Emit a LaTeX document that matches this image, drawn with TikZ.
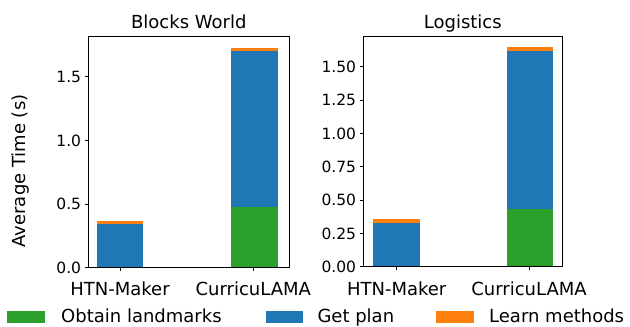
\documentclass[tikz,border=0pt]{standalone}
\usepackage{fontspec}
\setmainfont{DejaVu Sans}
\definecolor{mgreen}{HTML}{2CA02C}
\definecolor{mblue}{HTML}{1F77B4}
\definecolor{morange}{HTML}{FF7F0E}
\begin{document}
\begin{tikzpicture}[x=1pt,y=-1pt,
  big/.style={inner sep=0pt,text=black,font=\fontsize{18}{20}\selectfont},
  ytl/.style={inner sep=0pt,anchor=east,text=black,font=\fontsize{15.5}{17}\selectfont},
  frame/.style={draw=black,line width=0.9pt},
  tickln/.style={draw=black,line width=0.9pt}]
\useasboundingbox (0,0) rectangle (630,327);
\fill[white] (0,0) rectangle (630,327);

% ---------- Left: Blocks World ----------
\fill[mblue]   (96.7,267.7) rectangle (143.3,224.3);
\fill[morange] (96.7,224.3) rectangle (143.3,221.0);
\fill[mgreen]  (230.7,267.7) rectangle (277.7,207.3);
\fill[mblue]   (230.7,207.3) rectangle (277.7,51.0);
\fill[morange] (230.7,51.0) rectangle (277.7,47.7);
\draw[frame] (88.3,36.7) rectangle (289.3,267.7);
\foreach \yy/\lab [count=\i] in {267.7/0.0,204.05/0.5,140.4/1.0,76.75/1.5}{
  \draw[tickln] (88.3,\yy) -- (84.8,\yy);
  \node[ytl] (lyt\i) at (81.3,\yy) {\lab};
}
\draw[tickln] (120,267.7) -- (120,271.2);
\draw[tickln] (253.3,267.7) -- (253.3,271.2);
\node[big,anchor=base] (lx1) at (120,295) {HTN-Maker};
\node[big,anchor=base] (lx2) at (253.3,295) {CurricuLAMA};
\node[big,anchor=base] (ltitle) at (188.8,28) {Blocks World};
\node[big,anchor=base,rotate=90] (ylab) at (25,171) {Average Time (s)};

% ---------- Right: Logistics ----------
\fill[mblue]   (372.6,266.7) rectangle (419.6,222.7);
\fill[morange] (372.6,222.7) rectangle (419.6,219.3);
\fill[mgreen]  (506.7,266.7) rectangle (553.3,209.3);
\fill[mblue]   (506.7,209.3) rectangle (553.3,51.0);
\fill[morange] (506.7,51.0) rectangle (553.3,47.0);
\draw[frame] (363.3,36) rectangle (562.3,266.7);
\foreach \k/\lab in {0/0.00,1/0.25,2/0.50,3/0.75,4/1.00,5/1.25,6/1.50}{
  \pgfmathsetmacro{\yy}{266.7-\k*33.333}
  \draw[tickln] (363.3,\yy) -- (359.8,\yy);
  \node[ytl] (ryt\k) at (356.3,\yy) {\lab};
}
\draw[tickln] (396.7,266.7) -- (396.7,270.2);
\draw[tickln] (529,266.7) -- (529,270.2);
\node[big,anchor=base] (rx1) at (396.7,295) {HTN-Maker};
\node[big,anchor=base] (rx2) at (529,295) {CurricuLAMA};
\node[big,anchor=base] (rtitle) at (462.8,28) {Logistics};

% ---------- Legend ----------
\fill[mgreen]  (7.3,310.5) rectangle (45,322.5);
\node[big,anchor=base west] (leg1) at (61,322.5) {Obtain landmarks};
\fill[mblue]   (266,310.5) rectangle (302.7,322.5);
\node[big,anchor=base west] (leg2) at (317.3,322.5) {Get plan};
\fill[morange] (436,310.5) rectangle (473.5,322.5);
\node[big,anchor=base west] (leg3) at (489,322.5) {Learn methods};
\end{tikzpicture}
\end{document}
